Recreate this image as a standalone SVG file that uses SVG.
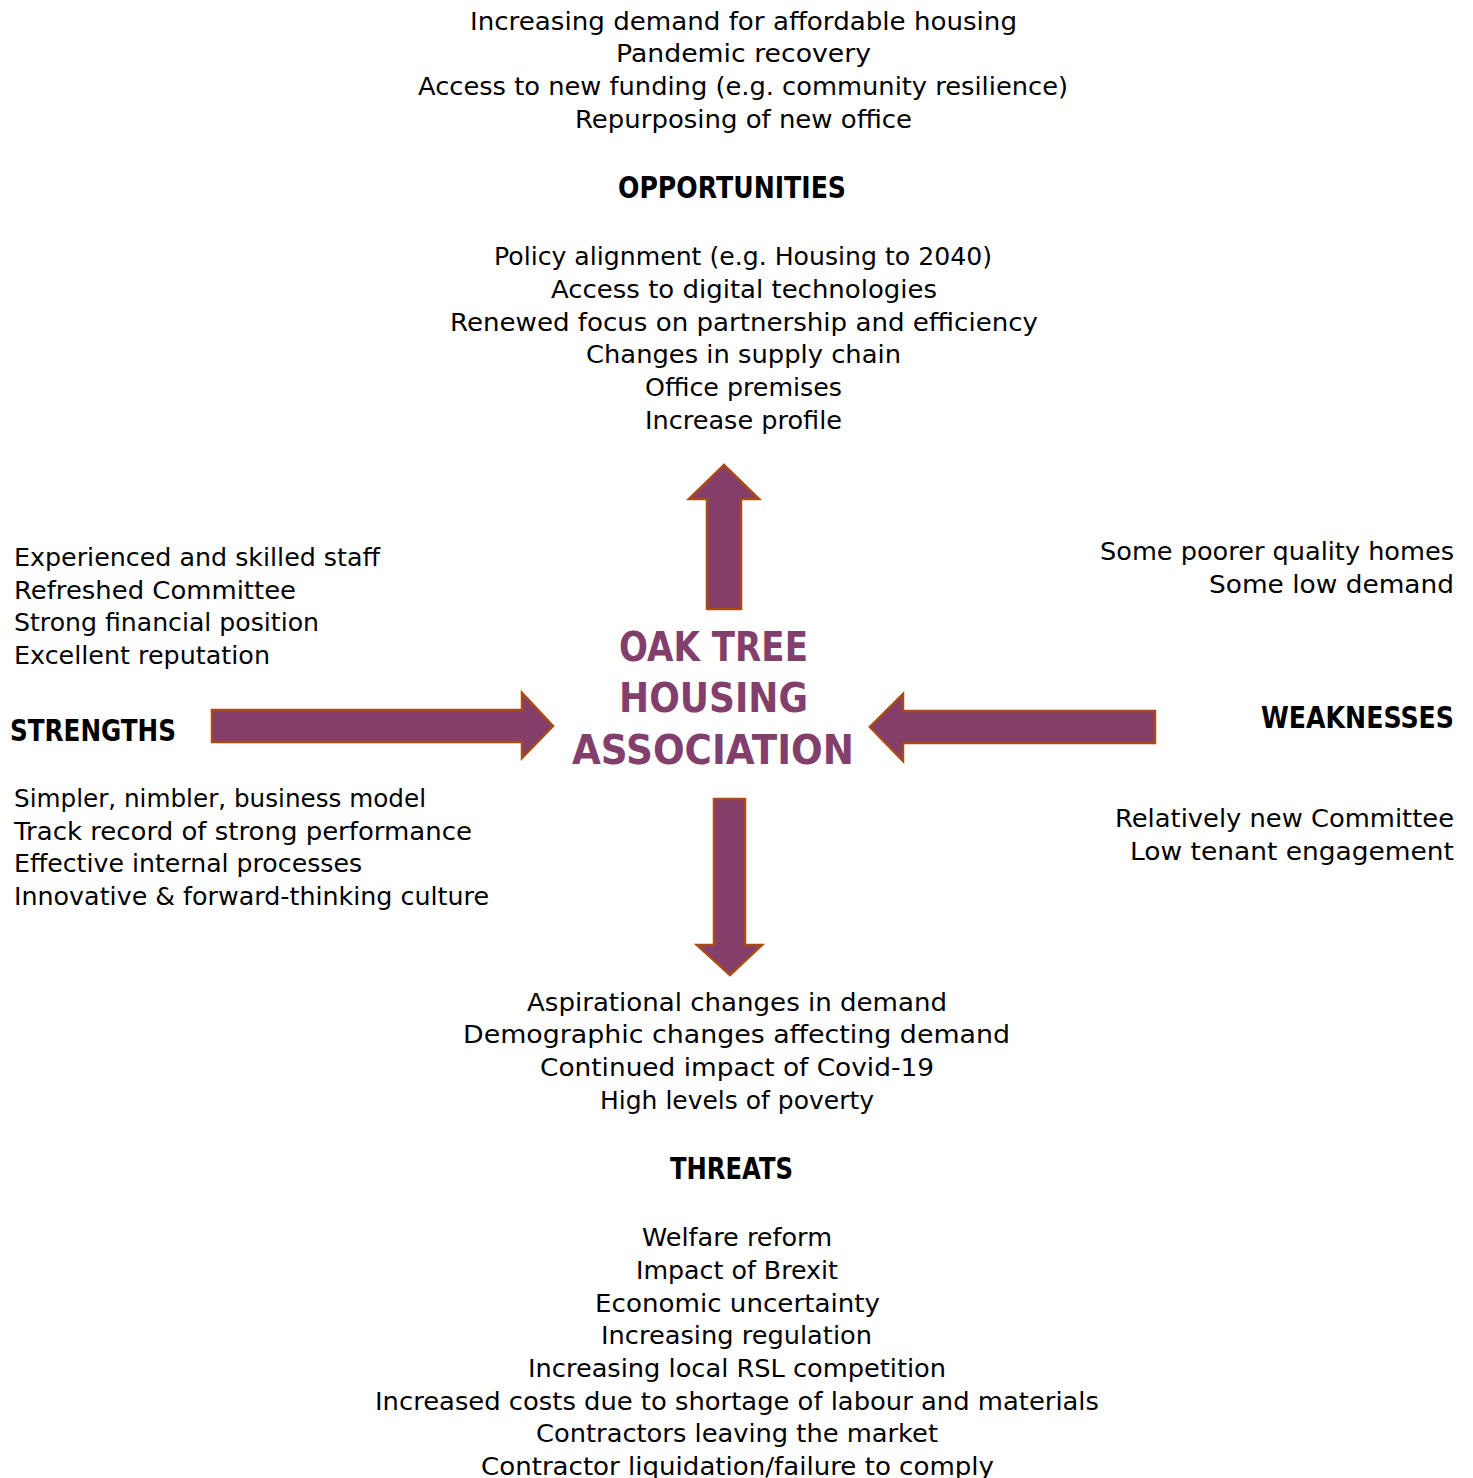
<svg xmlns="http://www.w3.org/2000/svg" width="1473" height="1478" viewBox="0 0 1473 1478">
<style>
.t{font-family:"DejaVu Sans","Liberation Sans",sans-serif;font-size:24px;fill:#000}
.c{text-anchor:middle}
.e{text-anchor:end}
.h{font-family:"DejaVu Sans","Liberation Sans",sans-serif;font-size:31px;font-weight:bold;fill:#000}
.ttl{font-family:"DejaVu Sans","Liberation Sans",sans-serif;font-size:41px;font-weight:bold;fill:#833F6B;text-anchor:middle}
.arr{fill:#833F6A;stroke:#A84B17;stroke-width:2.5;stroke-linejoin:miter}
</style>
<rect width="1473" height="1478" fill="#fff"/>
<g id="connectors">
<polygon class="arr" points="724,465 759,499 741,499 741,609 707,609 707,499 689,499"/>
<polygon class="arr" points="212,710 522,710 522,693 553,726 522,758 522,742 212,742"/>
<polygon class="arr" points="870,727 903,694 903,711 1155,711 1155,743 903,743 903,761"/>
<polygon class="arr" points="714,799 745,799 745,945 762,945 730,975 697,945 714,945"/>
</g>
<g id="opportunities-external">
<text class="t c" x="743.5" y="30" textLength="547" lengthAdjust="spacingAndGlyphs">Increasing demand for affordable housing</text>
<text class="t c" x="743.5" y="62" textLength="255" lengthAdjust="spacingAndGlyphs">Pandemic recovery</text>
<text class="t c" x="743" y="95" textLength="650" lengthAdjust="spacingAndGlyphs">Access to new funding (e.g. community resilience)</text>
<text class="t c" x="743.5" y="128" textLength="337" lengthAdjust="spacingAndGlyphs">Repurposing of new office</text>
</g>
<g id="opportunities-title">
<text class="h c" x="732" y="198" textLength="228" lengthAdjust="spacingAndGlyphs">OPPORTUNITIES</text>
</g>
<g id="opportunities-list">
<text class="t c" x="743" y="265" textLength="498" lengthAdjust="spacingAndGlyphs">Policy alignment (e.g. Housing to 2040)</text>
<text class="t c" x="744" y="298" textLength="386" lengthAdjust="spacingAndGlyphs">Access to digital technologies</text>
<text class="t c" x="744" y="331" textLength="588" lengthAdjust="spacingAndGlyphs">Renewed focus on partnership and efficiency</text>
<text class="t c" x="743.5" y="363" textLength="315" lengthAdjust="spacingAndGlyphs">Changes in supply chain</text>
<text class="t c" x="743.5" y="396" textLength="197" lengthAdjust="spacingAndGlyphs">Office premises</text>
<text class="t c" x="743.5" y="429" textLength="197" lengthAdjust="spacingAndGlyphs">Increase profile</text>
</g>
<g id="strengths-internal">
<text class="t" x="14" y="566" textLength="366" lengthAdjust="spacingAndGlyphs">Experienced and skilled staff</text>
<text class="t" x="14" y="599" textLength="282" lengthAdjust="spacingAndGlyphs">Refreshed Committee</text>
<text class="t" x="14" y="631" textLength="305" lengthAdjust="spacingAndGlyphs">Strong financial position</text>
<text class="t" x="14" y="664" textLength="256" lengthAdjust="spacingAndGlyphs">Excellent reputation</text>
</g>
<g id="strengths-title">
<text class="h" x="10" y="741" textLength="166" lengthAdjust="spacingAndGlyphs">STRENGTHS</text>
</g>
<g id="strengths-list">
<text class="t" x="14" y="807" textLength="412" lengthAdjust="spacingAndGlyphs">Simpler, nimbler, business model</text>
<text class="t" x="14" y="840" textLength="458" lengthAdjust="spacingAndGlyphs">Track record of strong performance</text>
<text class="t" x="14" y="872" textLength="348" lengthAdjust="spacingAndGlyphs">Effective internal processes</text>
<text class="t" x="14" y="905" textLength="475" lengthAdjust="spacingAndGlyphs">Innovative &amp; forward-thinking culture</text>
</g>
<g id="center">
<text class="ttl" x="713.5" y="661" textLength="189" lengthAdjust="spacingAndGlyphs">OAK TREE</text>
<text class="ttl" x="713.5" y="712" textLength="189" lengthAdjust="spacingAndGlyphs">HOUSING</text>
<text class="ttl" x="713" y="764" textLength="282" lengthAdjust="spacingAndGlyphs">ASSOCIATION</text>
</g>
<g id="weaknesses-internal">
<text class="t e" x="1454" y="560" textLength="354" lengthAdjust="spacingAndGlyphs">Some poorer quality homes</text>
<text class="t e" x="1454" y="593" textLength="245" lengthAdjust="spacingAndGlyphs">Some low demand</text>
</g>
<g id="weaknesses-title">
<text class="h e" x="1454" y="728" textLength="193" lengthAdjust="spacingAndGlyphs">WEAKNESSES</text>
</g>
<g id="weaknesses-list">
<text class="t e" x="1454" y="827" textLength="339" lengthAdjust="spacingAndGlyphs">Relatively new Committee</text>
<text class="t e" x="1454" y="860" textLength="324" lengthAdjust="spacingAndGlyphs">Low tenant engagement</text>
</g>
<g id="threats-internal">
<text class="t c" x="737" y="1011" textLength="420" lengthAdjust="spacingAndGlyphs">Aspirational changes in demand</text>
<text class="t c" x="736.5" y="1043" textLength="547" lengthAdjust="spacingAndGlyphs">Demographic changes affecting demand</text>
<text class="t c" x="737" y="1076" textLength="394" lengthAdjust="spacingAndGlyphs">Continued impact of Covid-19</text>
<text class="t c" x="737" y="1109" textLength="274" lengthAdjust="spacingAndGlyphs">High levels of poverty</text>
</g>
<g id="threats-title">
<text class="h c" x="731.5" y="1179" textLength="123" lengthAdjust="spacingAndGlyphs">THREATS</text>
</g>
<g id="threats-list">
<text class="t c" x="737" y="1246" textLength="190" lengthAdjust="spacingAndGlyphs">Welfare reform</text>
<text class="t c" x="737" y="1279" textLength="202" lengthAdjust="spacingAndGlyphs">Impact of Brexit</text>
<text class="t c" x="737.5" y="1312" textLength="285" lengthAdjust="spacingAndGlyphs">Economic uncertainty</text>
<text class="t c" x="736.5" y="1344" textLength="271" lengthAdjust="spacingAndGlyphs">Increasing regulation</text>
<text class="t c" x="737" y="1377" textLength="418" lengthAdjust="spacingAndGlyphs">Increasing local RSL competition</text>
<text class="t c" x="737" y="1410" textLength="724" lengthAdjust="spacingAndGlyphs">Increased costs due to shortage of labour and materials</text>
<text class="t c" x="737" y="1442" textLength="402" lengthAdjust="spacingAndGlyphs">Contractors leaving the market</text>
<text class="t c" x="737.5" y="1475" textLength="513" lengthAdjust="spacingAndGlyphs">Contractor liquidation/failure to comply</text>
</g>
</svg>
